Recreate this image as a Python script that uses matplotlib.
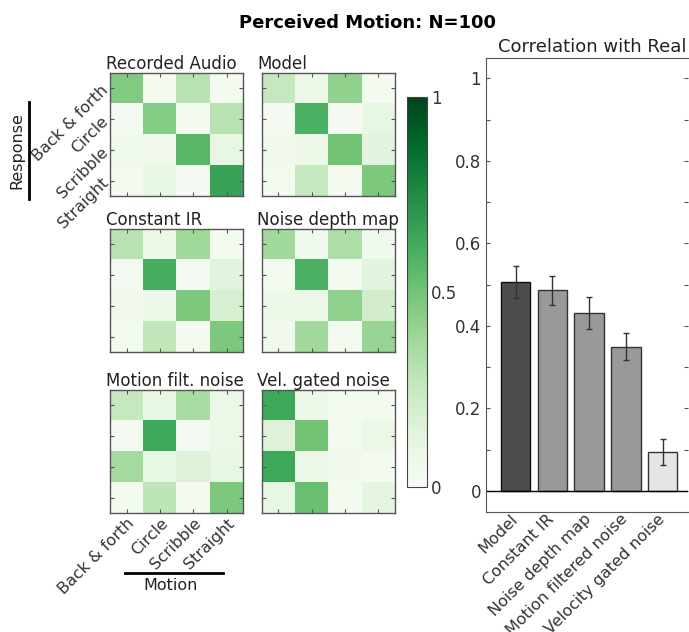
import matplotlib
matplotlib.use('Agg')
from matplotlib import pyplot as plt
from matplotlib.transforms import ScaledTranslation
import numpy as np

plt.rcParams.update({
    'font.family': 'DejaVu Sans',
    'font.size': 12,
    'text.color': '#222222',
    'axes.edgecolor': '#555555',
    'xtick.color': '#555555',
    'ytick.color': '#555555',
    'xtick.labelcolor': '#333333',
    'ytick.labelcolor': '#333333',
})

motions = ['Back & forth', 'Circle', 'Scribble', 'Straight']

# confusion matrices: rows = response, columns = motion
recorded_audio = [[0.46, 0.03, 0.30, 0.03],
                  [0.02, 0.45, 0.03, 0.30],
                  [0.05, 0.04, 0.57, 0.10],
                  [0.03, 0.10, 0.02, 0.66]]
model = [[0.25, 0.07, 0.42, 0.03],
         [0.02, 0.60, 0.02, 0.10],
         [0.04, 0.07, 0.50, 0.13],
         [0.03, 0.25, 0.03, 0.47]]
constant_ir = [[0.30, 0.07, 0.38, 0.03],
               [0.02, 0.61, 0.02, 0.13],
               [0.04, 0.07, 0.47, 0.18],
               [0.03, 0.27, 0.03, 0.47]]
noise_depth = [[0.37, 0.05, 0.33, 0.05],
               [0.03, 0.60, 0.03, 0.13],
               [0.07, 0.07, 0.42, 0.20],
               [0.04, 0.37, 0.03, 0.40]]
motion_filt = [[0.25, 0.10, 0.35, 0.08],
               [0.02, 0.64, 0.02, 0.08],
               [0.36, 0.10, 0.15, 0.10],
               [0.03, 0.28, 0.03, 0.47]]
vel_gated = [[0.64, 0.08, 0.03, 0.03],
             [0.15, 0.50, 0.03, 0.08],
             [0.64, 0.08, 0.04, 0.03],
             [0.10, 0.52, 0.03, 0.12]]

mat_titles = ['Recorded Audio', 'Model', 'Constant IR', 'Noise depth map',
              'Motion filt. noise', 'Vel. gated noise']
mats = [recorded_audio, model, constant_ir, noise_depth, motion_filt, vel_gated]

# correlation with real responses
bar_names = ['Model', 'Constant IR', 'Noise depth map', 'Motion filtered noise',
             'Velocity gated noise']
corr = [0.507, 0.486, 0.432, 0.350, 0.095]
corr_err = [0.038, 0.034, 0.039, 0.032, 0.031]
bar_colors = ['#4d4d4d', '#999999', '#999999', '#999999', '#e6e6e6']
bar_edges = ['#111111', '#333333', '#333333', '#333333', '#333333']

fig = plt.figure(figsize=(6.89, 6.32), dpi=100)
fig.suptitle('Perceived Motion: N=100', fontweight='bold', fontsize=13,
             x=0.534, y=0.978, color='black')

lefts = [0.160, 0.380]
bottoms = [0.690, 0.443, 0.188]
w, h = 0.193, 0.195
for i, (m, t) in enumerate(zip(mats, mat_titles)):
    r, c = divmod(i, 2)
    ax = fig.add_axes([lefts[c], bottoms[r], w, h])
    im = ax.imshow(np.array(m), cmap='Greens', vmin=0, vmax=1, aspect='auto',
                   interpolation='nearest')
    ax.set_title(t, loc='left', pad=3, x=-0.035, fontsize=12)
    ax.set_xticks(range(4))
    ax.set_yticks(range(4))
    ax.tick_params(direction='in', length=3, width=0.8, top=True, right=True)
    for s in ax.spines.values():
        s.set_linewidth(1.0)
    if i == 0:
        ax.tick_params(axis='y', pad=3)
        ax.set_yticklabels(motions, rotation=45, ha='right', va='center',
                           rotation_mode='anchor', fontsize=11.5)
    else:
        ax.set_yticklabels([])
    if i == 4:
        ax.tick_params(axis='x', pad=2)
        ax.set_xticklabels(motions, rotation=45, ha='right',
                           rotation_mode='anchor', fontsize=11.5)
    else:
        ax.set_xticklabels([])

cax = fig.add_axes([0.591, 0.229, 0.029, 0.617])
cb = fig.colorbar(im, cax=cax, ticks=[0, 0.5, 1])
cb.ax.set_yticklabels(['0', '0.5', '1'], fontsize=12)
cb.ax.tick_params(length=0, pad=3)
cb.outline.set_edgecolor('#444444')

# axis captions with bars
fig.add_artist(plt.Line2D([0.042, 0.042], [0.685, 0.839], color='black', lw=2))
fig.text(0.025, 0.762, 'Response', rotation=90, ha='center', va='center',
         fontsize=11.5)
fig.add_artist(plt.Line2D([0.181, 0.324], [0.093, 0.093], color='black', lw=2))
fig.text(0.247, 0.073, 'Motion', ha='center', va='center', fontsize=11.5)

# bar chart
bx = fig.add_axes([0.705, 0.1905, 0.293, 0.718])
x = np.arange(len(corr))
bx.bar(x, corr, width=0.8, color=bar_colors, edgecolor=bar_edges, linewidth=1)
bx.errorbar(x, corr, yerr=corr_err, fmt='none', ecolor='#333333',
            elinewidth=1, capsize=2)
bx.axhline(0, color='black', lw=1)
bx.set_xlim(-0.81, 4.68)
bx.set_ylim(-0.05, 1.05)
bx.set_yticks(np.round(np.arange(0, 1.01, 0.1), 1))
bx.set_yticklabels(['0', '', '0.2', '', '0.4', '', '0.6', '', '0.8', '', '1'],
                   fontsize=12)
bx.tick_params(axis='y', direction='in', length=3, right=True)
bx.tick_params(axis='x', length=0, pad=0)
bx.set_xticks(x)
bx.set_xticklabels(bar_names, rotation=45, ha='right', fontsize=11.5)
# nudge the rotated names a little to the right
shift = ScaledTranslation(5 / 100, 0, fig.dpi_scale_trans)
for lab in bx.get_xticklabels():
    lab.set_transform(lab.get_transform() + shift)
bx.spines['right'].set_visible(False)
bx.set_title('Correlation with Real', fontsize=13, pad=4, x=0.53)

fig.savefig('out.png', dpi=100)
